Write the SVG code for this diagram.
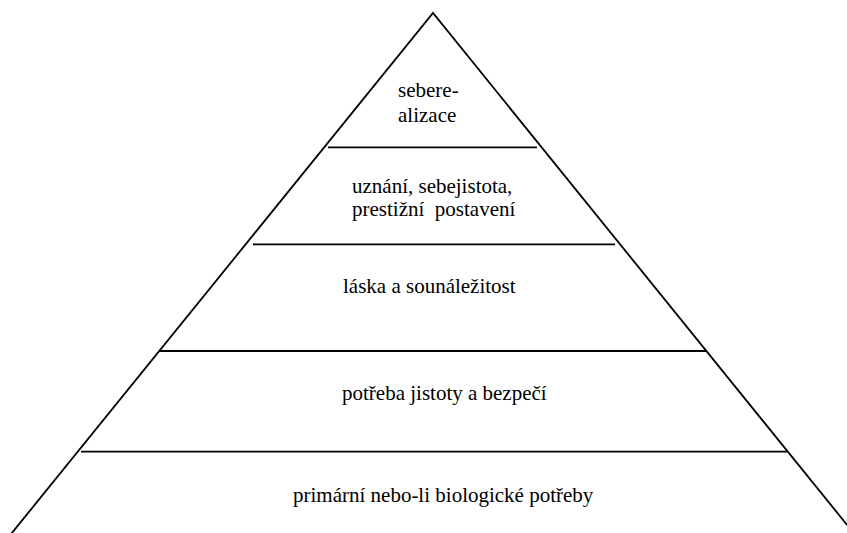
<svg xmlns="http://www.w3.org/2000/svg" width="847" height="533" viewBox="0 0 847 533">
<rect width="847" height="533" fill="#fff"/>
<g id="connectors" stroke="#000" stroke-width="1.8" fill="none">
<polyline points="7,539 433,13 852,531"/>
<line x1="328" y1="147.3" x2="537" y2="147.3"/>
<line x1="253" y1="244.3" x2="615" y2="244.3"/>
<line x1="160" y1="351" x2="707" y2="351"/>
<line x1="81" y1="451.7" x2="787" y2="451.7"/>
</g>
<g id="level5"><text font-family="Times New Roman" font-size="21" x="398" y="97">sebere-</text><text font-family="Times New Roman" font-size="21" x="398" y="122">alizace</text></g>
<g id="level4"><text font-family="Times New Roman" font-size="21" x="352" y="193">uznání, sebejistota,</text><text font-family="Times New Roman" font-size="21" x="352" y="216" xml:space="preserve">prestižní  postavení</text></g>
<g id="level3"><text font-family="Times New Roman" font-size="21" x="343" y="293">láska a sounáležitost</text></g>
<g id="level2"><text font-family="Times New Roman" font-size="21" x="342" y="400">potřeba jistoty a bezpečí</text></g>
<g id="level1"><text font-family="Times New Roman" font-size="21" x="293" y="502">primární nebo-li biologické potřeby</text></g>
</svg>
